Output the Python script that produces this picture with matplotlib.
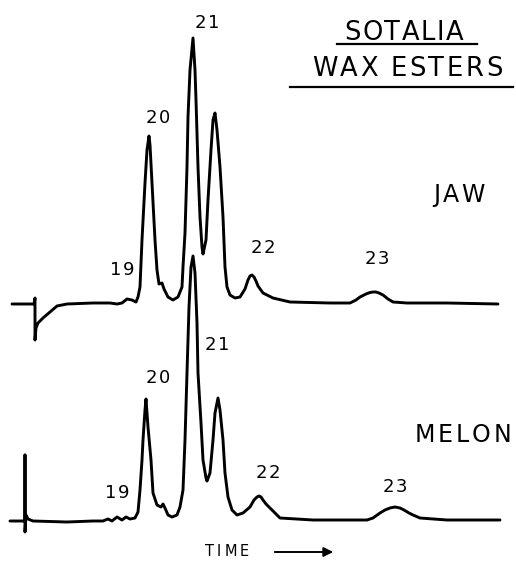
import matplotlib
matplotlib.use("Agg")
import matplotlib.pyplot as plt
import numpy as np

# ---- data (time in chart units, response above baseline) ----
jaw_time = [12, 34, 35, 35, 36, 38, 43, 50, 57, 67, 93, 110, 117, 122, 127, 132, 136, 138,
            140, 142, 145, 147, 149, 150, 152, 155, 157, 159, 162, 164, 168, 173, 178, 182,
            183, 185, 187, 188, 190, 193, 195, 196, 198, 200, 202, 203, 206, 208, 211, 213,
            215, 217, 220, 223, 225, 227, 230, 235, 240, 245, 248, 250, 252, 254, 256, 258,
            263, 273, 290, 330, 350, 356, 360, 366, 370, 373, 376, 379, 383, 388, 393, 407,
            447, 498]
jaw_y_px = [304, 304, 298, 340, 328, 323, 318, 312, 306, 304, 303, 303, 304, 303, 299, 300, 302, 297,
            287, 240, 183, 150, 136, 145, 183, 240, 270, 284, 283, 289, 297, 300, 297, 287,
            267, 233, 167, 117, 70, 38, 70, 100, 167, 217, 247, 254, 240, 200, 150, 120,
            113, 130, 167, 217, 267, 287, 295, 298, 297, 289, 280, 276, 275, 277, 281, 286,
            293, 298, 302, 303, 303, 300, 297, 294, 292.5, 292, 292, 293, 295, 299, 302, 303,
            303, 304]
jaw_baseline_px = 303

melon_time = [10, 25, 25, 25, 26, 28, 33, 67, 93, 103, 108, 112, 117, 122, 126, 130, 135, 138,
              140, 142, 143, 145, 146, 148, 151, 153, 157, 161, 163, 165, 168, 172, 177, 180,
              183, 185, 187, 189, 191, 193, 195, 197, 198, 201, 203, 206, 207, 210, 213, 215,
              218, 220, 223, 225, 228, 232, 237, 243, 250, 254, 257, 259, 261, 263, 266, 270,
              277, 280, 313, 367, 373, 380, 385, 390, 395, 400, 404, 409, 413, 420, 447, 500]
melon_y_px = [521, 521, 455, 532, 515, 519, 521, 522, 521, 521, 519, 521, 517, 520, 517, 519, 518, 512,
              490, 460, 440, 410, 399, 427, 460, 493, 505, 507, 504, 508, 515, 517, 515, 507,
              490, 440, 373, 307, 267, 256, 273, 323, 373, 423, 460, 478, 481, 473, 440, 413,
              398, 410, 440, 473, 497, 510, 515, 513, 507, 500, 497, 496, 497, 500, 504, 508,
              515, 518, 520, 520, 518, 513, 510, 508, 507, 508, 510, 513, 515, 518, 520, 520]
melon_baseline_px = 521

peak_labels = ["19", "20", "21", "22", "23"]
jaw_label_pos = [(122, 270), (158, 118), (207, 23), (263, 248), (377, 259)]
melon_label_pos = [(117, 493), (158, 378), (217, 345), (268, 473), (395, 487)]

title_lines = ["SOTALIA", "WAX ESTERS"]
trace_names = ["JAW", "MELON"]
axis_label = "TIME"

# ---- figure ----
W, H = 516, 563
fig = plt.figure(figsize=(W / 100, H / 100), dpi=100)
ax = fig.add_axes([0, 0, 1, 1])
ax.set_xlim(0, W)
ax.set_ylim(H, 0)  # pixel-like vertical scale (top down)
ax.axis("off")
renderer = fig.canvas.get_renderer()

FONT = "DejaVu Sans"


def spaced_text(xc, yc, s, size, track):
    """Draw text centred at (xc, yc) with extra letter spacing (in x units)."""
    widths = []
    for ch in s:
        t = ax.text(0, 0, ch, fontsize=size, family=FONT)
        bb = t.get_window_extent(renderer=renderer)
        widths.append(bb.width if ch != " " else size * 100 / 72 * 0.32)
        t.remove()
    total = sum(widths) + track * (len(s) - 1)
    x = xc - total / 2
    for ch, w in zip(s, widths):
        if ch != " ":
            ax.text(x, yc, ch, fontsize=size, family=FONT, ha="left", va="center")
        x += w + track


jaw_sig = jaw_baseline_px - np.array(jaw_y_px, dtype=float)
melon_sig = melon_baseline_px - np.array(melon_y_px, dtype=float)

lw = 2.1
ax.plot(jaw_time, jaw_baseline_px - jaw_sig, color="black", lw=lw,
        solid_joinstyle="round", solid_capstyle="round")
ax.plot(melon_time, melon_baseline_px - melon_sig, color="black", lw=lw,
        solid_joinstyle="round", solid_capstyle="round")

for lab, (x, y) in zip(peak_labels, jaw_label_pos):
    spaced_text(x, y, lab, 13, 1.5)
for lab, (x, y) in zip(peak_labels, melon_label_pos):
    spaced_text(x, y, lab, 13, 1.5)

spaced_text(404, 33, title_lines[0], 18.5, 1.5)
ax.plot([337, 477], [44, 44], color="black", lw=1.6)
spaced_text(407, 69, title_lines[1], 18.5, 2.5)
ax.plot([290, 513], [87, 87], color="black", lw=1.6)

spaced_text(459, 195, trace_names[0], 17, 2.5)
spaced_text(463, 435, trace_names[1], 17, 3)

spaced_text(227, 552, axis_label, 10.5, 3)
ax.annotate("", xy=(336, 552), xytext=(272, 552),
            arrowprops=dict(arrowstyle="-|>", color="black", lw=1.4,
                            mutation_scale=14))

fig.savefig("out.png", dpi=100)
